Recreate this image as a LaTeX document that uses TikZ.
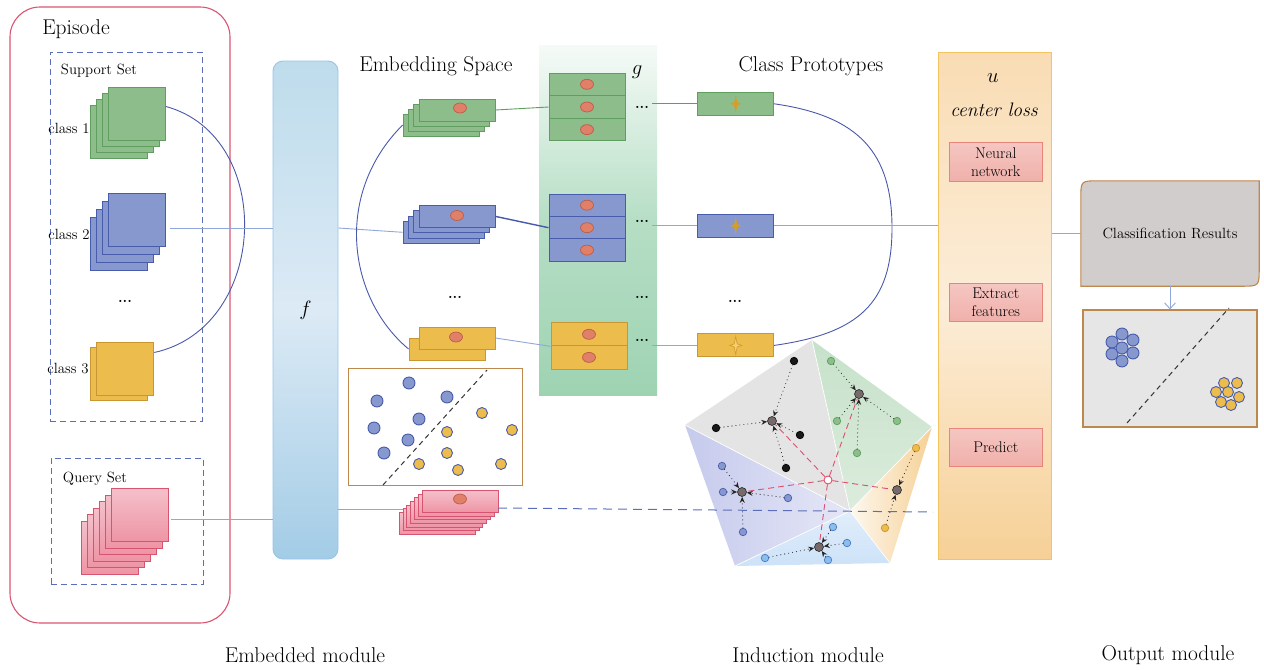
\documentclass[tikz,border=0pt]{standalone}
\usepackage{tikz}
\usetikzlibrary{arrows.meta, shapes.geometric}

\definecolor{episodeRed}{RGB}{217,84,110}
\definecolor{setBlue}{RGB}{90,110,185}
\definecolor{cardGreen}{RGB}{140,189,138}
\definecolor{edgeGreen}{RGB}{95,158,95}
\definecolor{cardBlue}{RGB}{134,152,206}
\definecolor{edgeBlue}{RGB}{72,92,172}
\definecolor{cardYellow}{RGB}{236,188,76}
\definecolor{edgeYellow}{RGB}{200,150,50}
\definecolor{cardPinkTop}{RGB}{244,192,202}
\definecolor{cardPink}{RGB}{238,148,165}
\definecolor{edgePink}{RGB}{214,84,112}
\definecolor{dotRed}{RGB}{224,128,104}
\definecolor{dotEdge}{RGB}{190,92,72}
\definecolor{lineDark}{RGB}{74,88,170}
\definecolor{lineLight}{RGB}{143,167,218}
\definecolor{fTop}{RGB}{190,220,236}
\definecolor{fMid}{RGB}{220,234,245}
\definecolor{fBot}{RGB}{163,204,230}
\definecolor{fEdge}{RGB}{152,196,232}
\definecolor{gGreen}{RGB}{158,211,178}
\definecolor{uTop}{RGB}{249,220,180}
\definecolor{uMid}{RGB}{252,237,216}
\definecolor{uBot}{RGB}{246,208,150}
\definecolor{uEdge}{RGB}{243,196,95}
\definecolor{boxPinkTop}{RGB}{245,198,194}
\definecolor{boxPink}{RGB}{240,176,170}
\definecolor{boxPinkEdge}{RGB}{232,132,122}
\definecolor{starGold}{RGB}{214,158,40}
\definecolor{resGray}{RGB}{210,205,205}
\definecolor{frameBrown}{RGB}{190,135,75}
\definecolor{outGray}{RGB}{230,230,230}
\definecolor{triGray}{RGB}{228,228,228}
\definecolor{triGreen}{RGB}{205,228,206}
\definecolor{triOrange}{RGB}{246,208,150}
\definecolor{triCream}{RGB}{253,248,238}
\definecolor{triBlue}{RGB}{205,226,248}
\definecolor{triPurple}{RGB}{198,202,236}
\definecolor{protoGray}{RGB}{118,106,106}
\definecolor{linkRed}{RGB}{222,80,110}
\definecolor{skyDot}{RGB}{140,190,235}
\definecolor{skyEdge}{RGB}{72,120,200}

\tikzset{
  bigtxt/.style={font=\fontsize{21.4}{25}\selectfont},
  smalltxt/.style={font=\fontsize{14.8}{17}\selectfont},
  card/.style={draw, line width=0.9pt, minimum width=57pt, minimum height=53pt, inner sep=0pt},
  strip/.style={draw, line width=0.9pt, minimum width=76pt, minimum height=22pt, inner sep=0pt},
  reddot/.style={ellipse, draw=dotEdge, fill=dotRed, line width=0.7pt, minimum width=13pt, minimum height=10pt, inner sep=0pt},
  plink/.style={lineLight, line width=0.9pt},
  dlink/.style={lineDark, line width=0.9pt},
  setbox/.style={draw=setBlue, dash pattern=on 6pt off 4pt, line width=0.9pt, inner sep=0pt},
  ubox/.style={draw=boxPinkEdge, top color=boxPinkTop, bottom color=boxPink, line width=0.9pt, minimum width=93pt, minimum height=38pt, inner sep=0pt, align=center, font=\fontsize{15.5}{17.5}\selectfont},
  blob/.style={circle, draw=edgeBlue, line width=0.9pt, minimum size=12pt, inner sep=0pt},
  sdot/.style={circle, line width=0.7pt, minimum size=7.5pt, inner sep=0pt, draw},
  proto/.style={circle, draw=black!85, fill=protoGray, line width=0.6pt, minimum size=9pt, inner sep=0pt},
  dotlink/.style={black!85, line width=1.1pt, dash pattern=on 0pt off 4pt, line cap=round, -{Stealth[length=6pt,width=5pt]}},
  redlink/.style={linkRed, line width=0.9pt, dash pattern=on 6pt off 4pt},
}

\begin{document}
\begin{tikzpicture}[x=1pt, y=-1pt]
  \useasboundingbox (0,0) rectangle (1264,670);

  % episode and sets
  \node[draw=episodeRed, rounded corners=30pt, line width=1.1pt, minimum width=220pt, minimum height=616pt] (episode) at (120,315) {};
  \node[bigtxt] (episodeLbl) at (76,29) {Episode};
  \node[setbox, minimum width=152pt, minimum height=369pt] (support) at (126,236.5) {};
  \node[smalltxt] (supportLbl) at (99,71) {Support Set};
  \node[setbox, minimum width=152pt, minimum height=126pt] (query) at (127,521) {};
  \node[smalltxt] (queryLbl) at (95,479) {Query Set};

  \foreach \i in {3,2,1,0}
    \node[card, draw=edgeGreen, fill=cardGreen] (supG\i) at ({137-6*\i},{113.5+6*\i}) {};
  \foreach \i in {3,2,1,0}
    \node[card, draw=edgeBlue, fill=cardBlue] (supB\i) at ({137-6*\i},{220+8*\i}) {};
  \foreach \i in {1,0}
    \node[card, draw=edgeYellow, fill=cardYellow] (supY\i) at ({125.3-6*\i},{368.5+5.5*\i}) {};
  \foreach \i in {5,4,3,2,1,0}
    \node[card, draw=edgePink, top color=cardPinkTop, bottom color=cardPink] (supP\i) at ({140.3-6*\i},{515.3+6.5*\i}) {};
  \node[smalltxt] (cls1) at (69,128) {class 1};
  \node[smalltxt] (cls2) at (69,234) {class 2};
  \node[smalltxt] (clsDots) at (125,301) {\textbf{...}};
  \node[smalltxt] (cls3) at (68,369) {class 3};

  % embedding function f
  \node[draw=fEdge, line width=0.9pt, rounded corners=10pt, top color=fTop, bottom color=fBot, middle color=fMid,
        minimum width=65pt, minimum height=498pt] (fcol) at (305.5,310) {\fontsize{21}{25}\selectfont$f$};

  % embedding space
  \node[bigtxt] (embLbl) at (436,66) {Embedding Space};
  \foreach \i in {3,2,1,0}
    \node[strip, draw=edgeGreen, fill=cardGreen] (embG\i) at ({457-5.3*\i},{110+5*\i}) {};
  \foreach \i in {3,2,1,0}
    \node[strip, draw=edgeBlue, fill=cardBlue] (embB\i) at ({457-5.3*\i},{216.4+5.3*\i}) {};
  \foreach \i in {1,0}
    \node[strip, draw=edgeYellow, fill=cardYellow] (embY\i) at ({457-10*\i},{338+11*\i}) {};
  \foreach \i in {6,5,4,3,2,1,0}
    \node[strip, draw=edgePink, top color=cardPinkTop, bottom color=cardPink] (embP\i) at ({460-3.8*\i},{501.4+3.7*\i}) {};
  \node[reddot] (embGd) at (460,108) {};
  \node[reddot] (embBd) at (457,215.5) {};
  \node[reddot] (embYd) at (456,337) {};
  \node[reddot] (embPd) at (460,499) {};
  \node[smalltxt] (embDots) at (455,297) {\textbf{...}};

  % scatter of embedded samples
  \node[draw=frameBrown, line width=1pt, fill=white, minimum width=174pt, minimum height=117pt] (scatter) at (435,426.5) {};
  \draw[black!80, line width=1pt, dash pattern=on 5pt off 4pt] (383,485) -- (487,370);
  \foreach \x/\y [count=\k] in {409/383,377/401,447/397,419/419,374/428,408/440,384/453}
    \node[blob, fill=cardBlue] (sb\k) at (\x,\y) {};
  \foreach \x/\y [count=\k] in {482/413,447/432,512/430,447/453,419/464,458/470,501/464}
    \node[blob, fill=cardYellow, minimum size=11pt] (sy\k) at (\x,\y) {};

  % relation module g
  \node[top color=white!90!gGreen, bottom color=gGreen, middle color=gGreen!75, minimum width=118pt, minimum height=350pt, inner sep=0pt] (gcol) at (598,220) {};
  \node[font=\fontsize{21}{25}\selectfont] (gLbl) at (637,72) {$g$};
  \foreach \r/\y in {1/84.3,2/107,3/129.6} {
    \node[strip, draw=edgeGreen, fill=cardGreen, minimum height=22.6pt] (gG\r) at (587,\y) {};
    \node[reddot] (gGd\r) at (587,\y) {};
  }
  \foreach \r/\y in {1/205.2,2/227.7,3/250.1} {
    \node[strip, draw=edgeBlue, fill=cardBlue, minimum height=22.4pt] (gB\r) at (587,\y) {};
    \node[reddot] (gBd\r) at (587,\y) {};
  }
  \foreach \r/\y in {1/334.3,2/357.4} {
    \node[strip, draw=edgeYellow, fill=cardYellow, minimum height=23.2pt] (gY\r) at (589,\y) {};
    \node[reddot] (gYd\r) at (589,\y) {};
  }
  \node[smalltxt] (gdG) at (642,107) {\textbf{...}};
  \node[smalltxt] (gdB) at (642,221) {\textbf{...}};
  \node[smalltxt] (gdM) at (642,297) {\textbf{...}};
  \node[smalltxt] (gdY) at (642,340) {\textbf{...}};

  % class prototypes
  \node[bigtxt] (protoLbl) at (811,66) {Class Prototypes};
  \node[strip, draw=edgeGreen, fill=cardGreen, minimum height=23pt] (protoG) at (735.7,103.8) {};
  \node[strip, draw=edgeBlue, fill=cardBlue, minimum height=23pt] (protoB) at (735.7,225.7) {};
  \node[strip, draw=edgeYellow, fill=cardYellow, minimum height=23pt] (protoY) at (735.7,345.4) {};
  \node[smalltxt] (protoDots) at (735,301) {\textbf{...}};
  \fill[starGold] (protoG.center) +(0,-9) -- +(1.5,-1.5) -- +(6,0) -- +(1.5,1.5) -- +(0,9) -- +(-1.5,1.5) -- +(-6,0) -- +(-1.5,-1.5) -- cycle;
  \fill[starGold] (protoB.center) +(0,-9) -- +(1.5,-1.5) -- +(6,0) -- +(1.5,1.5) -- +(0,9) -- +(-1.5,1.5) -- +(-6,0) -- +(-1.5,-1.5) -- cycle;
  \draw[starGold, fill=cardYellow!70!white, line width=0.7pt] (protoY.center) +(0,-9) -- +(1.5,-1.5) -- +(6,0) -- +(1.5,1.5) -- +(0,9) -- +(-1.5,1.5) -- +(-6,0) -- +(-1.5,-1.5) -- cycle;

  % induction space
  \coordinate (pT) at (812,340);
  \coordinate (pL) at (685,425);
  \coordinate (pR) at (932,427);
  \coordinate (pBL) at (735,566);
  \coordinate (pBR) at (890,563);
  \coordinate (pC) at (850,511);
  \fill[triGray] (pT) -- (pL) -- (pC) -- cycle;
  \shade[top color=triGreen!85!gGreen, bottom color=triGreen!70!white] (pT) -- (pR) -- (pC) -- cycle;
  \shade[left color=triCream, right color=triOrange] (pR) -- (pBR) -- (pC) -- cycle;
  \shade[top color=triBlue!60!white, bottom color=triBlue] (pBL) -- (pBR) -- (pC) -- cycle;
  \shade[left color=triPurple, right color=triPurple!45!white] (pL) -- (pBL) -- (pC) -- cycle;
  \draw[white, line width=0.7pt] (pT) -- (pC) (pL) -- (pC) (pR) -- (pC) (pBL) -- (pC) (pBR) -- (pC);

  \node[proto] (pr1) at (772,421) {};
  \node[proto] (pr2) at (859,394) {};
  \node[proto] (pr3) at (742,492) {};
  \node[proto] (pr4) at (897,490) {};
  \node[proto] (pr5) at (819,547) {};
  \node[circle, draw=linkRed, fill=white, line width=0.9pt, minimum size=8pt, inner sep=0pt] (query0) at (828,480) {};
  \foreach \k in {1,...,5}
    \draw[redlink] (query0) -- (pr\k);

  \foreach \x/\y [count=\k] in {794/361,716/428,800/435,786/468} {
    \node[sdot, draw=black, fill=black!90] (a\k) at (\x,\y) {};
    \draw[dotlink] (a\k) -- (pr1);
  }
  \foreach \x/\y [count=\k] in {831/361,837/421,897/421,857/453} {
    \node[sdot, draw=edgeGreen, fill=cardGreen] (b\k) at (\x,\y) {};
    \draw[dotlink] (b\k) -- (pr2);
  }
  \foreach \x/\y [count=\k] in {722/466,723/492,788/498,743/532} {
    \node[sdot, draw=edgeBlue, fill=cardBlue] (c\k) at (\x,\y) {};
    \draw[dotlink] (c\k) -- (pr3);
  }
  \foreach \x/\y [count=\k] in {916/448,885/528} {
    \node[sdot, draw=edgeYellow, fill=cardYellow] (d\k) at (\x,\y) {};
    \draw[dotlink] (d\k) -- (pr4);
  }
  \foreach \x/\y [count=\k] in {833/527,847/543,828/560,765/558} {
    \node[sdot, draw=skyEdge, fill=skyDot] (e\k) at (\x,\y) {};
    \draw[dotlink] (e\k) -- (pr5);
  }

  % module u
  \node[draw=uEdge, line width=1pt, top color=uTop, bottom color=uBot, middle color=uMid,
        minimum width=113pt, minimum height=507pt] (ucol) at (994.5,305.5) {};
  \node[font=\fontsize{21}{25}\selectfont] (uLbl) at (993,78) {$u$};
  \node[font=\fontsize{19.5}{23}\selectfont\itshape] (lossLbl) at (994,110) {center loss};
  \node[ubox, minimum height=39pt] (nn) at (995.8,162) {Neural\\network};
  \node[ubox] (extract) at (995.8,302.5) {Extract\\features};
  \node[ubox] (predict) at (995.8,447) {Predict};

  % output
  \node[smalltxt, minimum width=178pt, minimum height=105pt, inner sep=0pt] (res) at (1170,233.5) {};
  \draw[frameBrown, fill=resGray, line width=1.1pt] (res.south west) -- ([yshift=-18pt]res.north west)
    .. controls (res.north west) .. ([xshift=18pt]res.north west) -- (res.north east)
    -- ([yshift=18pt]res.south east) .. controls (res.south east) .. ([xshift=-18pt]res.south east) -- cycle;
  \node[smalltxt] (resLbl) at (res.center) {Classification Results};
  \node[draw=frameBrown, fill=outGray, line width=1.1pt, minimum width=174pt, minimum height=117pt] (outbox) at (1170,368.5) {};
  \draw[black!80, line width=1pt, dash pattern=on 5pt off 4pt] (1127,423) -- (1229,308);
  \foreach \x/\y [count=\k] in {1112/342,1122/334,1133/340,1112/354,1122/348,1133/353,1122/361}
    \node[blob, fill=cardBlue] (ob\k) at (\x,\y) {};
  \foreach \x/\y [count=\k] in {1224/383,1237/383,1216/392,1228/392,1239/397,1221/402,1231/405}
    \node[blob, fill=cardYellow, minimum size=11pt] (oy\k) at (\x,\y) {};

  % connectors
  \draw[dlink] ([yshift=7pt]supG0.east) .. controls +(110,30) and +(115,-25) .. ([yshift=16pt]supY0.east);
  \coordinate (c2out) at (170,228);
  \draw[plink] (c2out) -- (c2out -| fcol.west);
  \draw[plink] (fcol.east |- c2out) -- (embB3.west);
  \coordinate (qout) at (171,519);
  \draw[plink] (qout) -- (qout -| fcol.west);
  \coordinate (qemb) at (403,509);
  \draw[plink] (fcol.east |- qemb) -- (qemb);
  \draw[dlink] (embG3.west) .. controls +(-70,70) and +(-60,-50) .. (embY1.west);
  \draw[edgeGreen, line width=0.9pt] (embG0.east) -- (gG2.west);
  \draw[dlink, line width=1.4pt] (embB0.east) -- (gB2.west);
  \draw[plink] (embY0.east) -- (gY1.south west);
  \draw[edgeGreen, line width=0.9pt] (protoG.west -| gdG.east) -- (protoG.west);
  \draw[plink] (protoB.west -| gdB.east) -- (protoB.west);
  \draw[plink] (protoY.west -| gdY.east) -- (protoY.west);
  \coordinate (protoBend) at (892,228);
  \draw[dlink] (protoG.east) .. controls +(85,12) and +(0,-75) .. (protoBend)
    .. controls +(0,75) and +(85,-12) .. (protoY.east);
  \draw[plink] (protoB.east) -- (protoB.east -| ucol.west);
  \draw[plink] (ucol.east |- res.west) -- (res.west);
  \draw[plink, -{Straight Barb[length=6pt, width=11pt]}] (res.south) -- (outbox.north);
  \coordinate (qstart) at (498,508);
  \coordinate (qend) at (933,512);
  \draw[setBlue, line width=1pt, dash pattern=on 9pt off 6pt] (qstart) -- (qend);

  % module captions
  \node[bigtxt] (capEmb) at (305,655) {Embedded module};
  \node[bigtxt] (capInd) at (808,655) {Induction module};
  \node[bigtxt] (capOut) at (1168,655) {Output module};
\end{tikzpicture}
\end{document}
